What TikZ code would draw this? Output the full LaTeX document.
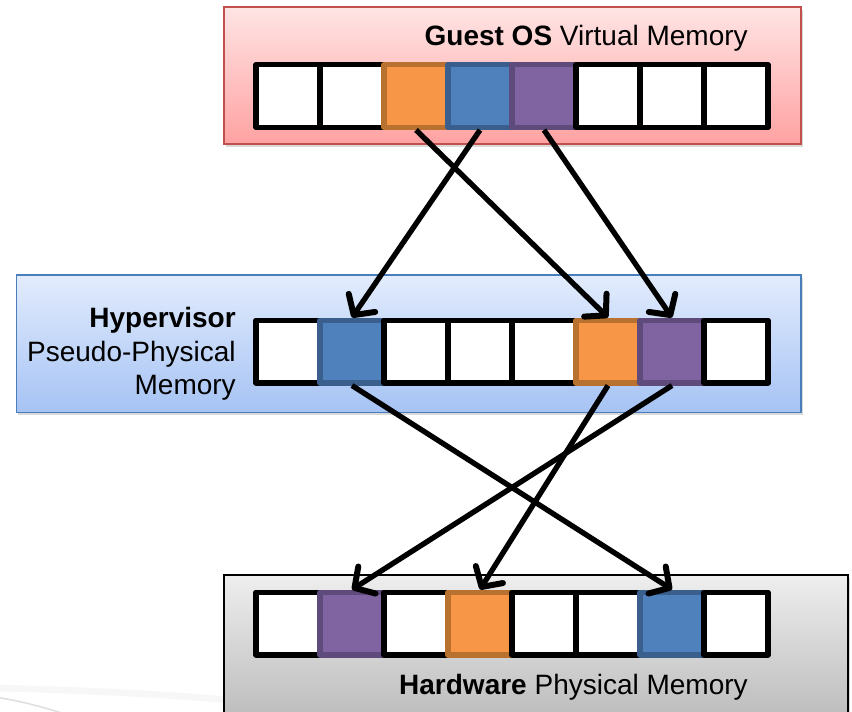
\documentclass[tikz,border=0pt]{standalone}
\usepackage{fontspec}
\setmainfont{Liberation Sans}
\usetikzlibrary{arrows.meta,shadows}

\definecolor{cOrange}{HTML}{F79646}
\definecolor{cOrangeD}{HTML}{B8712F}
\definecolor{cBlue}{HTML}{4F81BD}
\definecolor{cBlueD}{HTML}{3B5F8D}
\definecolor{cPurple}{HTML}{8064A2}
\definecolor{cPurpleD}{HTML}{5E4A7B}
\definecolor{guestTop}{HTML}{FFE4E4}
\definecolor{guestBot}{HTML}{FFA2A2}
\definecolor{guestLine}{HTML}{C0504D}
\definecolor{hypTop}{HTML}{E2ECFD}
\definecolor{hypBot}{HTML}{A6C3F4}
\definecolor{hypLine}{HTML}{4A7EBB}
\definecolor{hwTop}{HTML}{EEEEEE}
\definecolor{hwBot}{HTML}{BABABA}

\begin{document}
\begin{tikzpicture}[x=0.75pt,y=-0.75pt,
  panel/.style={line width=1.2pt, inner sep=0pt, outer sep=0pt,
    drop shadow={shadow xshift=1.2pt, shadow yshift=-2pt, opacity=0.3}},
  cell/.style={line width=4pt, minimum width=48pt, minimum height=47pt,
    inner sep=0pt, line join=round},
  label/.style={inner sep=0pt, font=\fontsize{21}{25}\selectfont},
  arr/.style={line width=4pt,
    -{Straight Barb[length=11pt,width=24pt,line width=4.5pt,round]}}]

\useasboundingbox (0,0) rectangle (852,711);

% faint background swoosh
\draw[black!12, line width=1.2pt] (-5,697) .. controls (20,701) and (45,707) .. (70,716);
\draw[black!3, line width=5pt] (-5,688) .. controls (80,690) and (160,694) .. (230,700);

\begin{scope}
\clip (0,0) rectangle (852,711);

% the three memory layers
\node[panel, draw=guestLine, top color=guestTop, bottom color=guestBot,
  minimum width=432.75pt, minimum height=102.75pt] (guest) at (512.5,75.5) {};
\node[panel, draw=hypLine, top color=hypTop, bottom color=hypBot,
  minimum width=588.4pt, minimum height=103.1pt] (hyp) at (408.75,343.75) {};
\node[panel, draw=black, top color=hwTop, bottom color=hwBot,
  minimum width=468pt, minimum height=112.5pt] (hw) at (536,650) {};
\end{scope}

% layer captions
\node[label, anchor=base east] (gtxt) at (748,45) {\textbf{Guest OS} Virtual Memory};
\node[label, anchor=base east] (htxt1) at (236,327) {\textbf{Hypervisor}};
\node[label, anchor=base east] (htxt2) at (236,361) {Pseudo-Physical};
\node[label, anchor=base east] (htxt3) at (236,394.5) {Memory};
\node[label, anchor=base east] (wtxt) at (748,694) {\textbf{Hardware} Physical Memory};

% memory pages, drawn left to right so each page's left edge lies on top
\foreach \f/\d [count=\i] in {white/black,white/black,cOrange/cOrangeD,cBlue/cBlueD,
                              cPurple/cPurpleD,white/black,white/black,white/black}
  \node[cell, fill=\f, draw=\d] (t\i) at ({224+64*\i},96) {};
\foreach \f/\d [count=\i] in {white/black,cBlue/cBlueD,white/black,white/black,
                              white/black,cOrange/cOrangeD,cPurple/cPurpleD,white/black}
  \node[cell, fill=\f, draw=\d] (m\i) at ({224+64*\i},351.5) {};
\foreach \f/\d [count=\i] in {white/black,cPurple/cPurpleD,white/black,cOrange/cOrangeD,
                              white/black,white/black,cBlue/cBlueD,white/black}
  \node[cell, fill=\f, draw=\d] (b\i) at ({224+64*\i},623.5) {};

% page mappings: virtual -> pseudo-physical -> physical
\draw[arr] (t3.south) -- (m6.north);
\draw[arr] (t4.south) -- (m2.north);
\draw[arr] (t5.south) -- (m7.north);
\draw[arr] (m2.south) -- (b7.north);
\draw[arr] (m6.south) -- (b4.north);
\draw[arr] (m7.south) -- (b2.north);

\end{tikzpicture}
\end{document}
